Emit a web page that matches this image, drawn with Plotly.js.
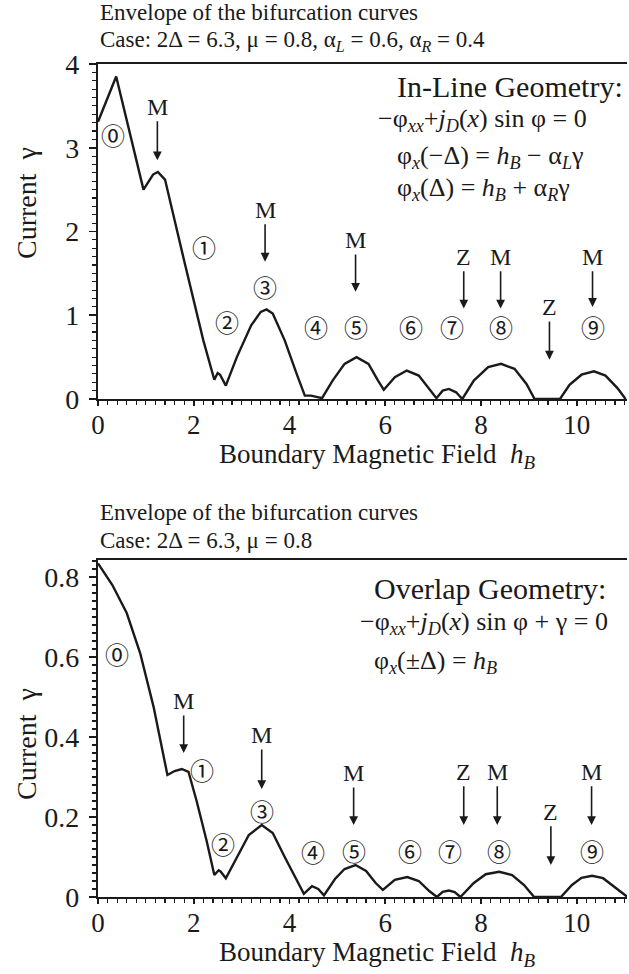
<!DOCTYPE html>
<html>
<head>
<meta charset="utf-8">
<script src="https://cdn.plot.ly/plotly-3.0.1.min.js"></script>
<style>
  html, body { margin: 0; padding: 0; background: #fff; }
  #chart { width: 629px; height: 974px; }
</style>
</head>
<body>
<div id="chart"></div>
<script>
// In-line geometry envelope: boundary field hB vs current gamma
const hB_inline = [0.00, 0.38, 0.95, 1.15, 1.25, 1.40, 1.80, 2.20, 2.43, 2.50, 2.55, 2.67, 2.90, 3.20, 3.40, 3.52, 3.65, 3.90, 4.15, 4.32, 4.45, 4.55, 4.68, 4.90, 5.15, 5.40, 5.65, 5.85, 5.97, 6.20, 6.45, 6.70, 6.95, 7.07, 7.20, 7.33, 7.48, 7.61, 7.85, 8.15, 8.42, 8.70, 8.95, 9.12, 9.65, 9.85, 10.10, 10.36, 10.60, 10.85, 11.02];
const gamma_inline = [3.31, 3.85, 2.50, 2.68, 2.71, 2.62, 1.65, 0.70, 0.23, 0.31, 0.29, 0.16, 0.50, 0.88, 1.04, 1.07, 1.02, 0.70, 0.30, 0.04, 0.04, 0.03, 0.01, 0.22, 0.42, 0.50, 0.42, 0.22, 0.11, 0.26, 0.34, 0.28, 0.10, 0.01, 0.10, 0.12, 0.08, 0.00, 0.22, 0.38, 0.42, 0.36, 0.18, 0.00, 0.00, 0.17, 0.29, 0.33, 0.28, 0.13, 0.00];

// Overlap geometry envelope
const hB_overlap = [0.00, 0.30, 0.60, 0.88, 1.16, 1.45, 1.60, 1.75, 1.89, 2.06, 2.27, 2.43, 2.52, 2.56, 2.67, 2.90, 3.15, 3.42, 3.65, 3.90, 4.15, 4.30, 4.47, 4.60, 4.72, 4.95, 5.15, 5.38, 5.60, 5.80, 5.95, 6.20, 6.46, 6.70, 6.92, 7.08, 7.20, 7.33, 7.45, 7.57, 7.85, 8.10, 8.38, 8.65, 8.90, 9.11, 9.67, 9.90, 10.10, 10.32, 10.55, 10.80, 11.06];
const gamma_overlap = [0.834, 0.78, 0.71, 0.61, 0.476, 0.305, 0.315, 0.32, 0.313, 0.24, 0.14, 0.055, 0.067, 0.064, 0.047, 0.10, 0.155, 0.18, 0.16, 0.10, 0.04, 0.008, 0.027, 0.02, 0.004, 0.045, 0.07, 0.08, 0.065, 0.035, 0.018, 0.043, 0.05, 0.04, 0.015, 0.0, 0.013, 0.016, 0.012, 0.0, 0.035, 0.057, 0.063, 0.055, 0.03, 0.0, 0.0, 0.03, 0.048, 0.053, 0.047, 0.025, 0.0];

// Branch labels
const branchLabels = ['⓪', '①', '②', '③', '④', '⑤', '⑥', '⑦', '⑧', '⑨'];
const inlineLabelX = [0.31, 2.22, 2.69, 3.49, 4.56, 5.38, 6.54, 7.40, 8.41, 10.33];
const inlineLabelY = [3.16, 1.82, 0.92, 1.34, 0.87, 0.87, 0.87, 0.87, 0.87, 0.87];
const overlapLabelX = [0.40, 2.17, 2.62, 3.42, 4.50, 5.34, 6.51, 7.36, 8.37, 10.31];
const overlapLabelY = [0.61, 0.32, 0.134, 0.2175, 0.113, 0.1175, 0.1175, 0.1175, 0.1175, 0.1175];

// Marker arrows (M = maximum, Z = zero crossing)
const markerText = ['M', 'M', 'M', 'Z', 'M', 'Z', 'M'];
const inlineMarkX = [1.24, 3.49, 5.38, 7.64, 8.41, 9.43, 10.33];
const inlineMarkTextY = [3.49, 2.26, 1.90, 1.70, 1.70, 1.10, 1.70];
const inlineMarkTipY = [2.85, 1.64, 1.28, 1.08, 1.08, 0.47, 1.10];
const overlapMarkX = [1.79, 3.42, 5.34, 7.64, 8.34, 9.46, 10.31];
const overlapMarkTextY = [0.49, 0.405, 0.31, 0.313, 0.313, 0.213, 0.313];
const overlapMarkTipY = [0.36, 0.27, 0.18, 0.18, 0.18, 0.08, 0.18];

const SERIF = 'Liberation Serif';
const CIRC = 'Noto Sans CJK JP';
const INK = '#1a1a1a';

// plot area geometry (pixels) used to place free text
const L = 98, R = 2, T = 64, B = 77, W = 629, H = 974;
const pw = W - L - R, ph = H - T - B;
const px = (x) => (x - L) / pw;
const py = (y) => (H - B - y) / ph;

const traces = [
  { x: hB_inline, y: gamma_inline, xaxis: 'x', yaxis: 'y', mode: 'lines',
    line: { color: INK, width: 2.4 }, hoverinfo: 'skip' },
  { x: hB_overlap, y: gamma_overlap, xaxis: 'x2', yaxis: 'y2', mode: 'lines',
    line: { color: INK, width: 2.4 }, hoverinfo: 'skip' }
];

const annotations = [];

function text(t, x, y, size, opts) {
  annotations.push(Object.assign({
    text: t, xref: 'paper', yref: 'paper', x: px(x), y: py(y),
    xanchor: 'left', yanchor: 'middle', showarrow: false,
    font: { family: SERIF, size: size, color: INK }
  }, opts || {}));
}

// headers
text('Envelope of the bifurcation curves', 98, 13, 23);
text('Case: 2Δ = 6.3, μ = 0.8, α<sub><i>L</i></sub> = 0.6, α<sub><i>R</i></sub> = 0.4', 98, 41, 23);
text('Envelope of the bifurcation curves', 98, 512, 23);
text('Case: 2Δ = 6.3, μ = 0.8', 98, 540, 23);

// equations
text('In-Line Geometry:', 395, 87, 30);
text('−φ<sub><i>xx</i></sub>+<i>j</i><sub><i>D</i></sub>(<i>x</i>) sin φ = 0', 376, 120, 26);
text('φ<sub><i>x</i></sub>(−Δ) = <i>h</i><sub><i>B</i></sub> − α<sub><i>L</i></sub>γ', 395, 157, 26);
text('φ<sub><i>x</i></sub>(Δ) = <i>h</i><sub><i>B</i></sub> + α<sub><i>R</i></sub>γ', 395, 189, 26);
text('Overlap Geometry:', 372, 588, 30);
text('−φ<sub><i>xx</i></sub>+<i>j</i><sub><i>D</i></sub>(<i>x</i>) sin φ + γ = 0', 358, 623, 26);
text('φ<sub><i>x</i></sub>(±Δ) = <i>h</i><sub><i>B</i></sub>', 372, 662, 26);

// axis titles
text('Current  γ', 26, 203, 28, { xanchor: 'center', textangle: -90 });
text('Current  γ', 26, 744, 28, { xanchor: 'center', textangle: -90 });
text('Boundary Magnetic Field  <i>h</i><sub><i>B</i></sub>', 377, 456, 27, { xanchor: 'center' });
text('Boundary Magnetic Field  <i>h</i><sub><i>B</i></sub>', 377, 954, 27, { xanchor: 'center' });

// branch numbers
function branch(xs, ys, xr, yr) {
  branchLabels.forEach(function (lab, i) {
    annotations.push({
      text: lab, x: xs[i], y: ys[i], xref: xr, yref: yr, showarrow: false,
      xanchor: 'center', yanchor: 'middle',
      font: { family: CIRC, size: 24, color: INK }
    });
  });
}
branch(inlineLabelX, inlineLabelY, 'x', 'y');
branch(overlapLabelX, overlapLabelY, 'x2', 'y2');

// arrows
function marks(xs, ty, tip, xr, yr) {
  markerText.forEach(function (lab, i) {
    annotations.push({
      text: lab, x: xs[i], y: tip[i], xref: xr, yref: yr,
      ax: xs[i], ay: ty[i], axref: xr, ayref: yr,
      showarrow: true, arrowhead: 2, arrowsize: 1.1, arrowwidth: 1.6,
      arrowcolor: INK, standoff: 0, startstandoff: 0,
      font: { family: SERIF, size: 24, color: INK }
    });
  });
}
marks(inlineMarkX, inlineMarkTextY, inlineMarkTipY, 'x', 'y');
marks(overlapMarkX, overlapMarkTextY, overlapMarkTipY, 'x2', 'y2');

const xCommon = {
  range: [0, 11.05], tick0: 0, dtick: 2, ticks: 'outside', ticklen: 5, tickwidth: 1.6,
  tickcolor: INK, showline: true, linecolor: INK, linewidth: 2.2, mirror: true,
  showgrid: false, zeroline: false, ticklabelstandoff: -5,
  tickfont: { family: SERIF, size: 27, color: INK },
  minor: { dtick: 0.2, ticks: 'outside', ticklen: 4, tickwidth: 1.2, tickcolor: INK, showgrid: false }
};
const yCommon = {
  ticks: 'outside', ticklen: 7, tickwidth: 1.6, tickcolor: INK,
  showline: true, linecolor: INK, linewidth: 2.2, showgrid: false, zeroline: false,
  tickfont: { family: SERIF, size: 28, color: INK }, ticklabelstandoff: 4
};

const layout = {
  width: W, height: H,
  margin: { l: L, r: R, t: T, b: B },
  paper_bgcolor: '#fff', plot_bgcolor: '#fff',
  showlegend: false,
  font: { family: SERIF, color: INK },
  xaxis: Object.assign({}, xCommon, { anchor: 'y' }),
  xaxis2: Object.assign({}, xCommon, { anchor: 'y2' }),
  yaxis: Object.assign({}, yCommon, {
    domain: [py(399), 1], range: [0, 4], tick0: 0, dtick: 1,
    minor: { dtick: 0.1, ticks: 'outside', ticklen: 4, tickwidth: 1.2, tickcolor: INK, showgrid: false }
  }),
  yaxis2: Object.assign({}, yCommon, {
    domain: [0, py(560)], range: [0, 0.8425], tick0: 0, dtick: 0.2,
    minor: { dtick: 0.02, ticks: 'outside', ticklen: 4, tickwidth: 1.2, tickcolor: INK, showgrid: false }
  }),
  annotations: annotations
};

Plotly.newPlot('chart', traces, layout, { staticPlot: true, displayModeBar: false });
</script>
</body>
</html>
